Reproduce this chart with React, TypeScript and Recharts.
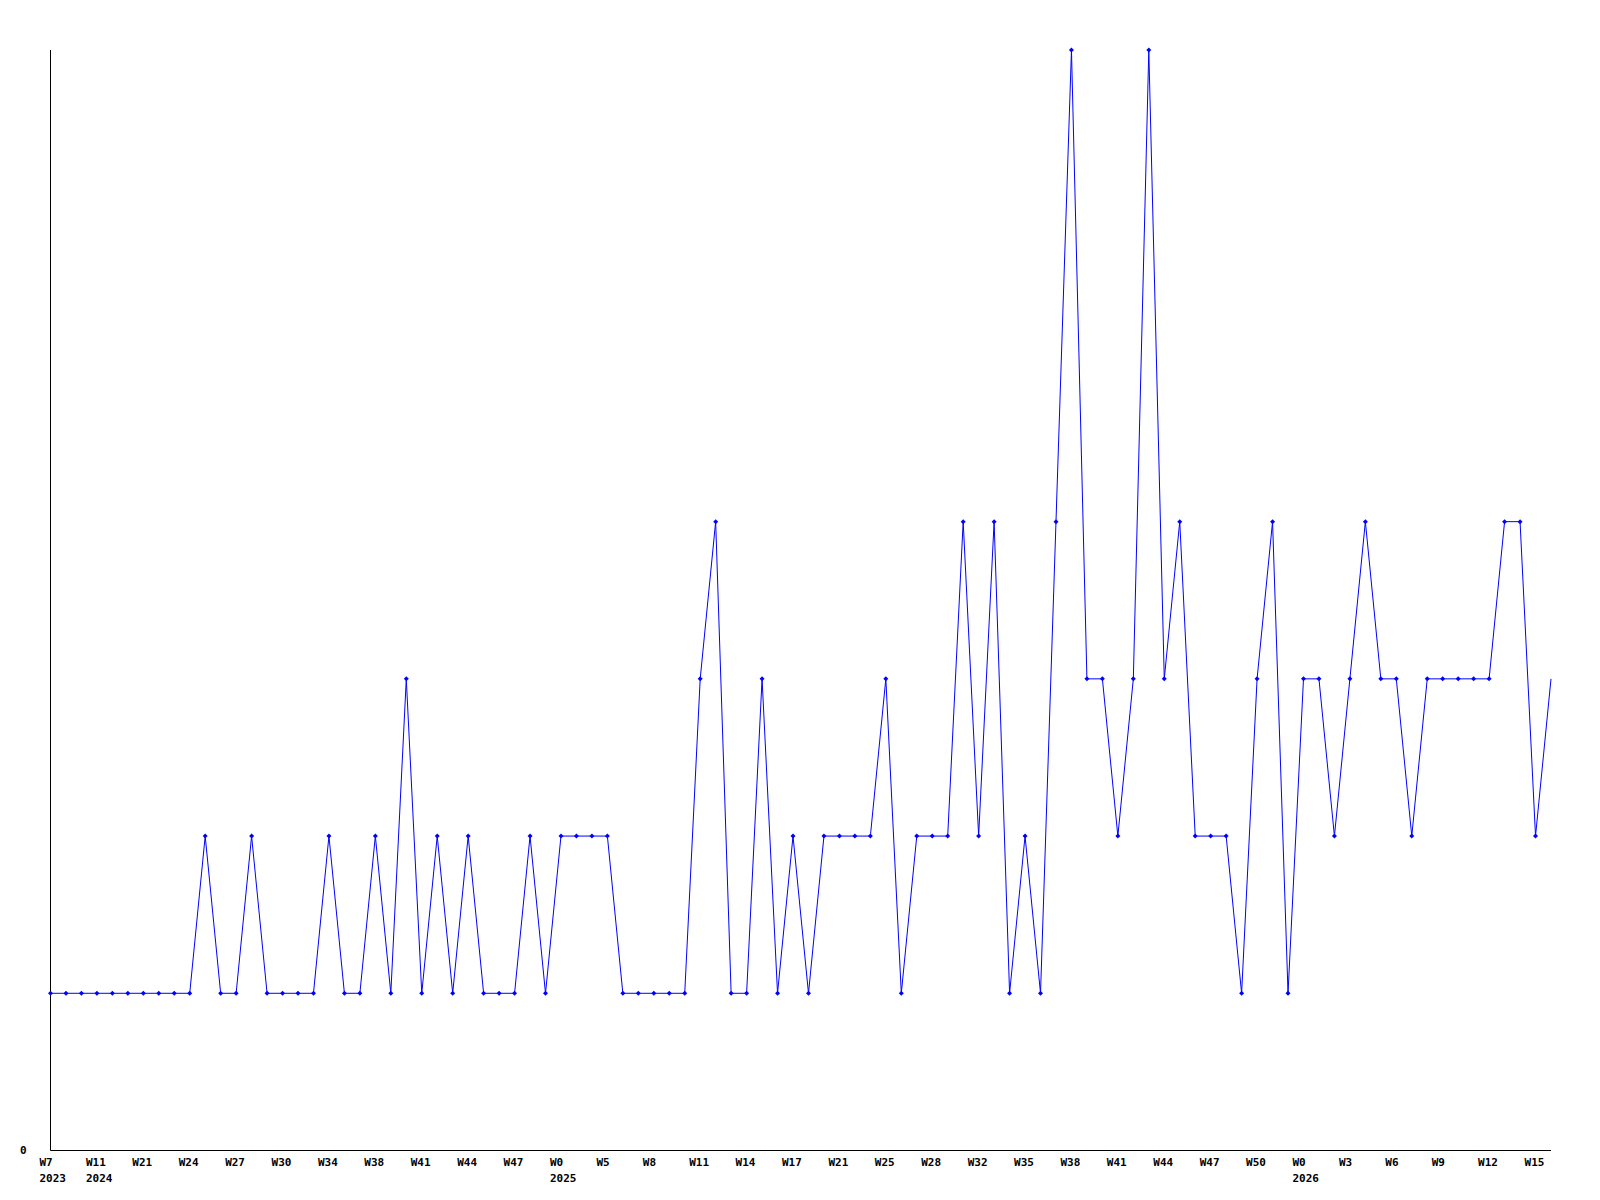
import React from "react";
import { LineChart, Line, XAxis, YAxis } from "recharts";

const values: number[] = [
  1, 1, 1, 1, 1, 1, 1, 1, 1, 1,
  2, 1, 1, 2, 1, 1, 1, 1, 2, 1,
  1, 2, 1, 3, 1, 2, 1, 2, 1, 1,
  1, 2, 1, 2, 2, 2, 2, 1, 1, 1,
  1, 1, 3, 4, 1, 1, 3, 1, 2, 1,
  2, 2, 2, 2, 3, 1, 2, 2, 2, 4,
  2, 4, 1, 2, 1, 4, 7, 3, 3, 2,
  3, 7, 3, 4, 2, 2, 2, 1, 3, 4,
  1, 3, 3, 2, 3, 4, 3, 3, 2, 3,
  3, 3, 3, 3, 4, 4, 2, 3,
];

const weekLabels: string[] = [
  "W7", "W11", "W21", "W24", "W27", "W30", "W34", "W38", "W41", "W44", "W47",
  "W0", "W5", "W8", "W11", "W14", "W17", "W21", "W25", "W28", "W32", "W35",
  "W38", "W41", "W44", "W47", "W50", "W0", "W3", "W6", "W9", "W12", "W15",
];

// year label shown under the week label at tick position (label index)
const yearLabels: Record<number, string> = {
  0: "2023",
  1: "2024",
  11: "2025",
  27: "2026",
};

const TICK_STEP = 3;
const tickPositions: number[] = weekLabels.map((_, k) => k * TICK_STEP);

const data = values.map((v, i) => ({ i, v }));

const FONT = "'DejaVu Sans Mono', 'Liberation Mono', monospace";

const XTick = (props: any) => {
  const { x, payload } = props;
  const k = Math.round(payload.value / TICK_STEP);
  const label = weekLabels[k];
  const year = yearLabels[k];
  return (
    <g>
      <text
        x={x - 11}
        y={1158}
        textAnchor="start"
        fontFamily={FONT}
        fontWeight="bold"
        fontSize={11}
        fill="#000"
      >
        {label}
      </text>
      {year ? (
        <text
          x={x - 11}
          y={1173.5}
          textAnchor="start"
          fontFamily={FONT}
          fontWeight="bold"
          fontSize={11}
          fill="#000"
        >
          {year}
        </text>
      ) : null}
    </g>
  );
};

const YTick = (props: any) => {
  const { payload } = props;
  return (
    <text
      x={12}
      y={1146}
      textAnchor="start"
      fontFamily={FONT}
      fontWeight="bold"
      fontSize={11}
      fill="#000"
    >
      {String(payload.value)}
    </text>
  );
};

const Dot = (props: any) => {
  const { cx, cy, index } = props;
  if (index === values.length - 1 || cx == null || cy == null) return <g key={`d${index}`} />;
  const r = 2.5;
  return (
    <polygon
      key={`d${index}`}
      points={`${cx},${cy - r} ${cx + r},${cy} ${cx},${cy + r} ${cx - r},${cy}`}
      fill="#0000ff"
      stroke="none"
    />
  );
};

export default function App() {
  return (
    <div style={{ width: 1592, height: 1192, background: "#fff" }}>
      <LineChart
        width={1592}
        height={1192}
        data={data}
        margin={{ top: 42, right: 49, left: 0, bottom: 0 }}
      >
        <XAxis
          dataKey="i"
          type="number"
          domain={[0, values.length - 1]}
          ticks={tickPositions}
          interval={0}
          tickLine={false}
          axisLine={{ stroke: "#000", strokeWidth: 1 }}
          tick={<XTick />}
          height={49.5}
          allowDecimals={false}
        />
        <YAxis
          type="number"
          domain={[0, 7]}
          ticks={[0]}
          tickLine={false}
          axisLine={{ stroke: "#000", strokeWidth: 1 }}
          tick={<YTick />}
          width={42.5}
        />
        <Line
          type="linear"
          dataKey="v"
          stroke="#0000ff"
          strokeWidth={1}
          dot={<Dot />}
          activeDot={false}
          isAnimationActive={false}
        />
      </LineChart>
    </div>
  );
}
